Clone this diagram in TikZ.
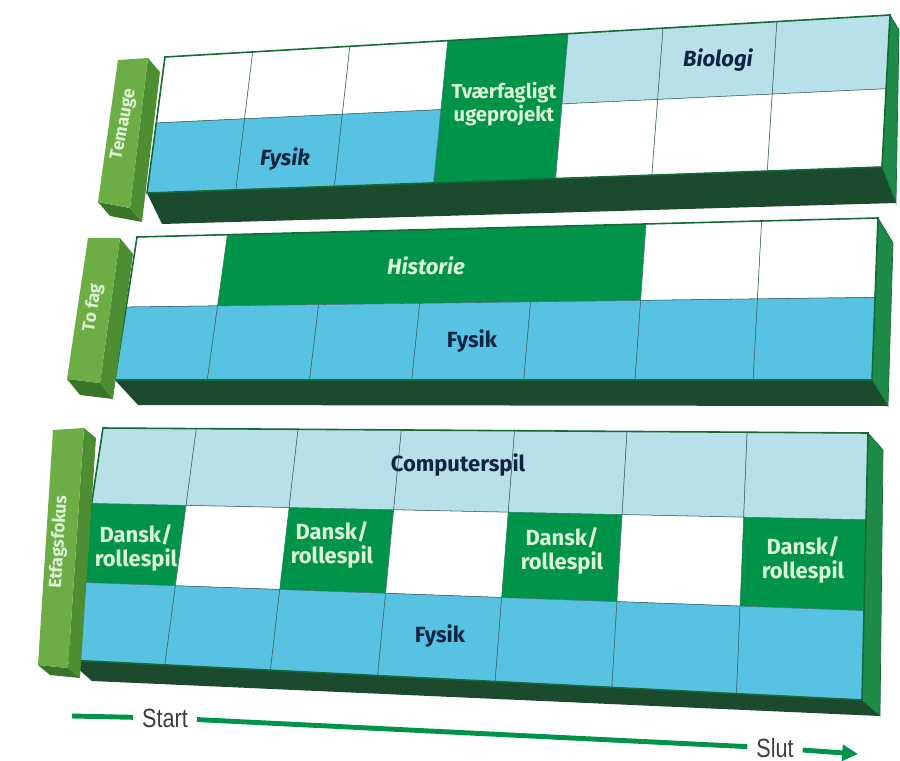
\documentclass[tikz,border=0pt]{standalone}
\usepackage{fontspec}
\setmainfont{Fira Sans}
\newfontfamily\axisfont[FakeStretch=0.82]{Liberation Sans}
\usetikzlibrary{calc,arrows.meta,positioning}

\definecolor{cellgreen}{HTML}{00944A}
\definecolor{slabdark}{HTML}{1B4A2D}
\definecolor{slabside}{HTML}{1E8A47}
\definecolor{slabedge}{HTML}{136B38}
\definecolor{palecyan}{HTML}{B8E0E8}
\definecolor{skycyan}{HTML}{58C2E2}
\definecolor{gridline}{HTML}{3C6468}
\definecolor{tabfront}{HTML}{6CAE45}
\definecolor{tabside}{HTML}{4E8E32}
\definecolor{tabbottom}{HTML}{3A7428}
\definecolor{navytext}{HTML}{0E2440}
\definecolor{minttext}{HTML}{DDF3D6}
\definecolor{axisgray}{HTML}{3C3C3C}

\begin{document}
\begin{tikzpicture}
  [x=0.02cm, y=-0.02cm,
  emptycell/.style={fill=white, draw=gridline, line width=0.3pt},
  palecell/.style={fill=palecyan, draw=gridline, line width=0.3pt},
  skycell/.style={fill=skycyan, draw=gridline, line width=0.3pt},
  greencell/.style={fill=cellgreen},
  underside/.style={fill=slabdark},
  sideface/.style={fill=slabside, draw=slabedge, line width=0.4pt},
  faceedge/.style={draw=slabedge, line width=0.9pt},
  subject/.style={font=\fontsize{12.5}{13.5}\selectfont\bfseries, align=center, inner sep=1pt},
  darksubject/.style={subject, text=navytext},
  lightsubject/.style={subject, text=minttext},
  tabtext/.style={font=\fontsize{10}{12}\selectfont\bfseries, text=minttext, inner sep=0pt},
  timeline/.style={draw=cellgreen, line width=2.8pt},
  axislabel/.style={font=\axisfont\fontsize{15}{15}\selectfont, text=axisgray,
    inner xsep=5pt, inner ysep=1pt}]

  \useasboundingbox (0,0) rectangle (900,761);

  % face corners of the three slabs, plus their back corners
  \coordinate (a-tl) at (165,57);  \coordinate (a-tr) at (890,15);
  \coordinate (a-br) at (882,167); \coordinate (a-bl) at (147,193);
  \coordinate (a-xt) at (899,30);  \coordinate (a-xr) at (896,203);
  \coordinate (a-xl) at (162,224);

  \coordinate (b-tl) at (137,237); \coordinate (b-tr) at (878,218);
  \coordinate (b-br) at (872,380); \coordinate (b-bl) at (115,380);
  \coordinate (b-xt) at (893,243); \coordinate (b-xr) at (888,406);
  \coordinate (b-xl) at (138,405);

  \coordinate (c-tl) at (103,428); \coordinate (c-tr) at (868,433);
  \coordinate (c-br) at (862,700); \coordinate (c-bl) at (68,660);
  \coordinate (c-xt) at (883,450); \coordinate (c-xr) at (880,716);
  \coordinate (c-xl) at (92,681);

  \foreach \s/\cols in {a/{0,.121,.255,.390,.556,.687,.844,1},
                        b/{0,.122,.257,.392,.540,.687,.843,1},
                        c/{0,.122,.255,.390,.538,.685,.842,1}}
  {
    \fill[underside] (\s-bl) -- (\s-br) -- (\s-xr) -- (\s-xl) -- cycle;
    \path[sideface] (\s-tr) -- (\s-xt) -- (\s-xr) -- (\s-br) -- cycle;
    \foreach \u [count=\i from 0] in \cols
    {
      \coordinate (\s-t\i) at ($(\s-tl)!\u!(\s-tr)$);
      \coordinate (\s-b\i) at ($(\s-bl)!\u!(\s-br)$);
    }
  }

  % cells: slab / first column / last column / top / bottom / kind
  \foreach \s/\i/\j/\p/\q/\kind in {
    a/0/1/0/.485/emptycell, a/1/2/0/.485/emptycell, a/2/3/0/.485/emptycell,
    a/3/4/0/1/greencell,
    a/4/5/0/.485/palecell, a/5/6/0/.485/palecell, a/6/7/0/.485/palecell,
    a/0/1/.485/1/skycell, a/1/2/.485/1/skycell, a/2/3/.485/1/skycell,
    a/4/5/.485/1/emptycell, a/5/6/.485/1/emptycell, a/6/7/.485/1/emptycell,
    b/0/1/0/.49/emptycell, b/1/5/0/.49/greencell,
    b/5/6/0/.49/emptycell, b/6/7/0/.49/emptycell,
    b/0/1/.49/1/skycell, b/1/2/.49/1/skycell, b/2/3/.49/1/skycell,
    b/3/4/.49/1/skycell, b/4/5/.49/1/skycell, b/5/6/.49/1/skycell,
    b/6/7/.49/1/skycell,
    c/0/1/0/.325/palecell, c/1/2/0/.325/palecell, c/2/3/0/.325/palecell,
    c/3/4/0/.325/palecell, c/4/5/0/.325/palecell, c/5/6/0/.325/palecell,
    c/6/7/0/.325/palecell,
    c/0/1/.325/.665/greencell, c/1/2/.325/.665/emptycell,
    c/2/3/.325/.665/greencell, c/3/4/.325/.665/emptycell,
    c/4/5/.325/.665/greencell, c/5/6/.325/.665/emptycell,
    c/6/7/.325/.665/greencell,
    c/0/1/.665/1/skycell, c/1/2/.665/1/skycell, c/2/3/.665/1/skycell,
    c/3/4/.665/1/skycell, c/4/5/.665/1/skycell, c/5/6/.665/1/skycell,
    c/6/7/.665/1/skycell}
    \path[\kind] ($(\s-t\i)!\p!(\s-b\i)$) -- ($(\s-t\j)!\p!(\s-b\j)$)
      -- ($(\s-t\j)!\q!(\s-b\j)$) -- ($(\s-t\i)!\q!(\s-b\i)$) -- cycle;

  \foreach \s in {a,b,c}
    \draw[faceedge] (\s-tl) -- (\s-tr) -- (\s-br) -- (\s-bl) -- cycle;

  % label tabs on the left
  \coordinate (ta-1) at (118,60);  \coordinate (ta-2) at (148,58);
  \coordinate (ta-3) at (130,208); \coordinate (ta-4) at (98,202);
  \coordinate (tb-1) at (88,238);  \coordinate (tb-2) at (120,238);
  \coordinate (tb-3) at (100,383); \coordinate (tb-4) at (67,379);
  \coordinate (tc-1) at (53,430);  \coordinate (tc-2) at (84,428);
  \coordinate (tc-3) at (68,668);  \coordinate (tc-4) at (38,665);
  \foreach \t/\dx/\dy in {ta/12/14, tb/13/16, tc/12/10}
  {
    \fill[tabbottom] (\t-4) -- (\t-3) -- ($(\t-3)+(\dx,\dy)$) -- ($(\t-4)+(\dx,\dy)$) -- cycle;
    \fill[tabside] (\t-2) -- ($(\t-2)+(\dx,\dy)$) -- ($(\t-3)+(\dx,\dy)$) -- (\t-3) -- cycle;
    \fill[tabfront] (\t-1) -- (\t-2) -- (\t-3) -- (\t-4) -- cycle;
  }

  \node[tabtext, rotate=79] (temauge) at (124,124) {Temauge};
  \node[tabtext, rotate=81] (tofag) at (93,308) {To fag};
  \node[tabtext, rotate=86.5] (etfag) at (59,542) {Etfagsfokus};

  % subjects
  \node[lightsubject, font=\fontsize{11.5}{13}\selectfont\bfseries] (tvaer) at (504,104) {Tværfagligt\\ugeprojekt};
  \node[darksubject] (biologi) at (718,60) {\itshape Biologi};
  \node[darksubject] (fysik-a) at (285,159) {\itshape Fysik};
  \node[lightsubject] (historie) at (426,266) {\itshape Historie};
  \node[darksubject] (fysik-b) at (472,341) {Fysik};
  \node[darksubject] (computer) at (458,465) {Computerspil};
  \node[lightsubject] (dansk-1) at (136,548) {Dansk/\\rollespil};
  \node[lightsubject] (dansk-2) at (332,545) {Dansk/\\rollespil};
  \node[lightsubject] (dansk-3) at (562,551) {Dansk/\\rollespil};
  \node[lightsubject] (dansk-4) at (803,560) {Dansk/\\rollespil};
  \node[darksubject] (fysik-c) at (440,636) {Fysik};

  % time axis
  \coordinate (axis-begin) at (72,716);
  \coordinate (axis-end) at (858,754);
  \node[axislabel] (start) at (165,718) {Start};
  \node[axislabel] (slut) at (775,748) {Slut};
  \draw[timeline] (axis-begin) -- (start);
  \draw[timeline] (start) -- (slut);
  \draw[timeline, -{Triangle[length=9pt,width=9pt]}] (slut) -- (axis-end);

\end{tikzpicture}
\end{document}
